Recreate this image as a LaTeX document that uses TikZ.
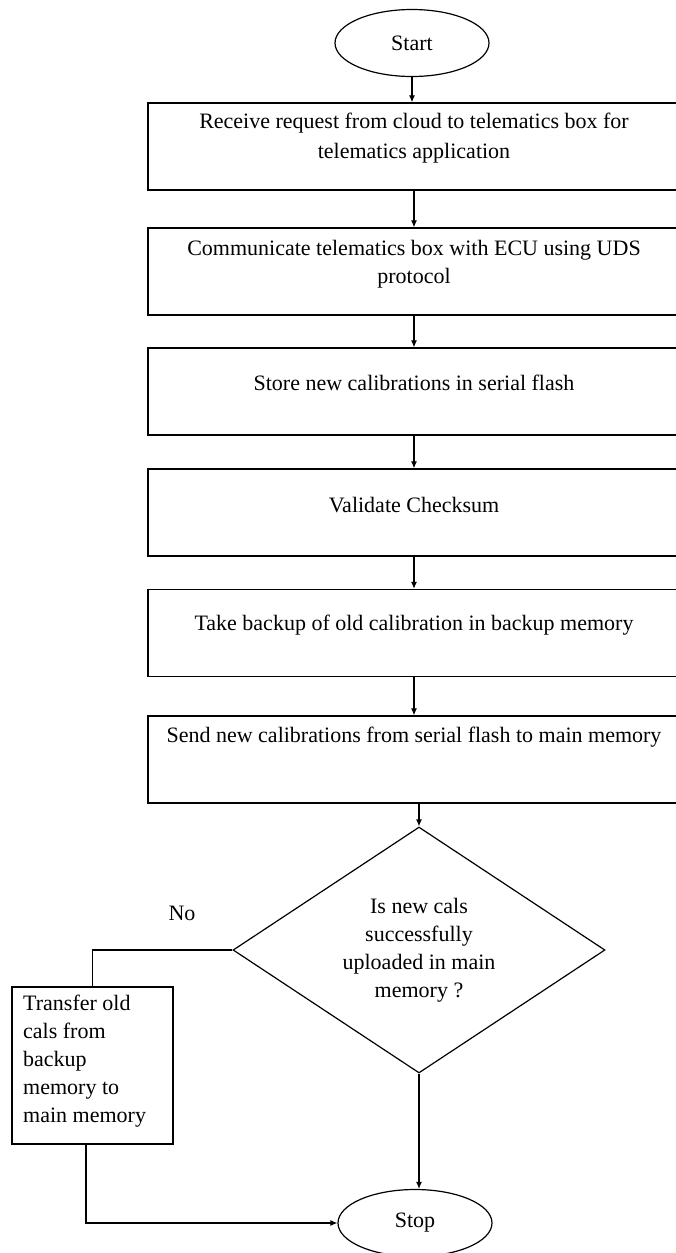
\documentclass[tikz,border=0pt]{standalone}
\usepackage{fontspec}
\setmainfont{Liberation Serif}
\usetikzlibrary{arrows.meta,shapes.geometric}
\begin{document}
\begin{tikzpicture}[x=1pt,y=-1pt,
  every node/.style={font=\fontsize{22}{28}\selectfont, inner sep=0pt},
  stepbox/.style={draw, line width=1.3pt, rectangle, minimum width=532pt, minimum height=87pt},
  terminal/.style={draw, line width=1.2pt, ellipse, minimum width=154pt, minimum height=67pt},
  decision/.style={draw, line width=1.2pt, diamond, minimum width=372pt, minimum height=246pt},
  sidebox/.style={draw, line width=1.3pt, rectangle, minimum width=161pt, minimum height=157pt},
  arr/.style={line width=1.2pt, -{Latex[length=7pt,width=6pt]}},
  link/.style={line width=1.2pt}]
\useasboundingbox (0,0) rectangle (676,1253);
\clip (0,0) rectangle (676,1253);

% terminals
\node[terminal] (start) at (412,43) {Start};
\node[terminal] (stop) at (415,1223) {Stop};

% process steps
\node[stepbox] (b1) at (414,146.5) {};
\node[stepbox] (b2) at (414,271.5) {};
\node[stepbox] (b3) at (414,391.5) {};
\node[stepbox] (b4) at (414,512.5) {};
\node[stepbox] (b5) at (414,633) {};
\node[stepbox] (b6) at (414,759.5) {};

\node[align=center, font=\fontsize{22}{30}\selectfont] (t1) at (414,138.5)
  {Receive request from cloud to telematics box for\\telematics application};
\node[align=center] (t2) at (414,264) {Communicate telematics box with ECU using UDS\\protocol};
\node (t3) at (414,383) {Store new calibrations in serial flash};
\node (t4) at (414,505) {Validate Checksum};
\node (t5) at (414,625) {Take backup of old calibration in backup memory};
\node (t6) at (414,737) {Send new calibrations from serial flash to main memory};

% decision
\node[decision] (dec) at (419,950) {};
\node[align=center] (tq) at (419,950) {Is new cals\\successfully\\uploaded in main\\memory ?};

% recovery step
\node[sidebox] (tr) at (92.5,1065.5) {};
\node[align=left, anchor=west] (ttr) at (23,1061)
  {Transfer old\\cals from\\backup\\memory to\\main memory};
\node (no) at (182,913) {No};

% connectors
\draw[arr] (start.south) -- (start.south |- b1.north);
\draw[arr] (b1.south) -- (b2.north);
\draw[arr] (b2.south) -- (b3.north);
\draw[arr] (b3.south) -- (b4.north);
\draw[arr] (b4.south) -- (b5.north);
\draw[arr] (b5.south) -- (b6.north);
\draw[arr] (b6.south -| dec.north) -- (dec.north);
\draw[arr] (dec.south) -- (dec.south |- stop.north);
\draw[link] (dec.west) -| (tr.north);
\draw[arr] ([xshift=-6.5pt]tr.south) |- (stop.west);
\end{tikzpicture}
\end{document}
